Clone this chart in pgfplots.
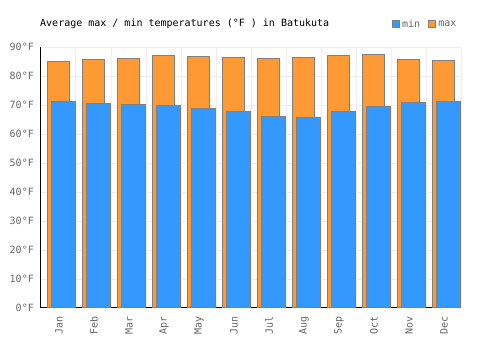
\documentclass[border=0pt]{standalone}
\usepackage{pgfplots}
\pgfplotsset{compat=1.18}
\usepackage{fontspec}
\setmainfont{DejaVu Sans Mono}
\setmonofont{DejaVu Sans Mono}
\definecolor{cmax}{HTML}{FF9933}
\definecolor{cmin}{HTML}{3399FF}
\definecolor{edge}{HTML}{808080}
\definecolor{gridc}{HTML}{EEEEEE}
\definecolor{txt}{HTML}{666666}
\begin{document}
\begin{tikzpicture}
\path[use as bounding box] (-41pt,-42pt) rectangle (459pt,308pt);
\begin{axis}[
  at={(0pt,0pt)}, anchor=south west,
  scale only axis, width=420pt, height=261pt,
  xmin=-0.5, xmax=11.5, ymin=0, ymax=90,
  axis x line*=bottom, axis y line*=left,
  axis line style={black, line width=1pt, -},
  xtick={0,...,11},
  xticklabels={Jan,Feb,Mar,Apr,May,Jun,Jul,Aug,Sep,Oct,Nov,Dec},
  minor xtick={0.5,1.5,2.5,3.5,4.5,5.5,6.5,7.5,8.5,9.5,10.5,11.5},
  ytick={0,10,20,30,40,50,60,70,80,90},
  yticklabels={0°F,10°F,20°F,30°F,40°F,50°F,60°F,70°F,80°F,90°F},
  major tick length=0pt, minor tick length=0pt,
  ymajorgrids, xminorgrids,
  grid style={gridc, line width=1pt},
  minor grid style={gridc, line width=1pt},
  tick label style={font=\fontsize{10}{12}\selectfont, text=txt},
  xticklabel style={rotate=90, anchor=east, inner sep=0pt, yshift=-0.5pt, xshift=-8pt},
  yticklabel style={anchor=east, inner sep=0pt, xshift=-7pt},
  legend columns=2,
  legend style={at={(0.8357,1.088)}, anchor=west, draw=none, fill=none, inner sep=0pt,
    font=\fontsize{10}{12}\selectfont, text=txt,
    /tikz/every even column/.append style={column sep=6pt}},
  legend image code/.code={\draw[#1] (0pt,-3.5pt) rectangle (7pt,3.5pt);},
]
\addlegendimage{fill=cmin, draw=edge, line width=1pt}
\addlegendentry{min}
\addlegendimage{fill=cmax, draw=edge, line width=1pt}
\addlegendentry{max}
\addplot[ybar, bar width=22pt, bar shift=-0.3pt, fill=cmax, draw=edge, line width=1pt, forget plot]
  coordinates {(0,85.1) (1,85.8) (2,86.1) (3,87.1) (4,86.8) (5,86.4) (6,86.1) (7,86.4) (8,87.1) (9,87.5) (10,85.8) (11,85.4)};
\addplot[ybar, bar width=23.5pt, bar shift=5pt, fill=cmin, draw=edge, line width=1pt, forget plot]
  coordinates {(0,71.3) (1,70.6) (2,70.2) (3,69.9) (4,68.9) (5,67.6) (6,66.1) (7,65.8) (8,67.8) (9,69.5) (10,70.9) (11,71.3)};
\end{axis}
\node[anchor=west, inner sep=0pt, font=\fontsize{10}{12}\selectfont, text=black] at (-1pt,284pt) {Average max / min temperatures (°F ) in Batukuta};
\end{tikzpicture}
\end{document}
